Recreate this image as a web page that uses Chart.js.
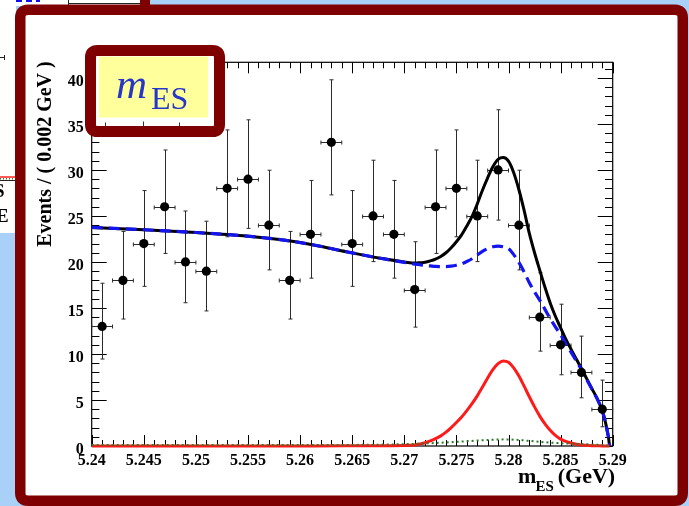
<!DOCTYPE html>
<html>
<head>
<meta charset="utf-8">
<script src="https://cdn.jsdelivr.net/npm/chart.js@4.4.1/dist/chart.umd.min.js"></script>
<style>
  html, body { margin: 0; padding: 0; background: #a9d0f7; overflow: hidden; }
  canvas { display: block; }
</style>
</head>
<body>
<canvas id="mes" width="689" height="506"></canvas>
<script>
// ---- m_ES distribution: binned data (0.002 GeV bins) ----
const binWidth = 0.002;
const binCenters = [5.241, 5.243, 5.245, 5.247, 5.249, 5.251, 5.253, 5.255, 5.257, 5.259,
                    5.261, 5.263, 5.265, 5.267, 5.269, 5.271, 5.273, 5.275, 5.277, 5.279,
                    5.281, 5.283, 5.285, 5.287, 5.289];
const counts     = [13, 18, 22, 26, 20, 19, 28, 29, 24, 18,
                    23, 33, 22, 25, 23, 17, 26, 28, 25, 30,
                    24, 14, 11, 8, 4];
// asymmetric (Poisson) error bar ends
const errLow  = [9.45, 13.80, 17.35, 20.93, 15.57, 14.68, 22.74, 23.65, 19.14, 13.80,
                 18.24, 27.29, 17.35, 20.04, 18.24, 12.92, 20.93, 22.74, 20.04, 24.55,
                 19.14, 10.31, 7.74, 5.24, 2.09];
const errHigh = [17.69, 23.32, 27.76, 32.17, 25.54, 24.43, 34.35, 35.45, 29.97, 23.32,
                 28.86, 39.80, 27.76, 31.06, 28.86, 22.20, 32.17, 34.35, 31.06, 36.54,
                 29.97, 18.83, 15.41, 11.94, 7.16];

// ---- fit projections, sampled along m_ES ----
const curveX = [5.2400, 5.2450, 5.2500, 5.2550, 5.2586, 5.2613, 5.2645, 5.2677,
                5.2700, 5.2705, 5.2710, 5.2715, 5.2720, 5.2725, 5.2730, 5.2735, 5.2740, 5.2745,
                5.2750, 5.2755, 5.2760, 5.2765, 5.2770, 5.2775, 5.2780, 5.2785, 5.2790, 5.2795,
                5.2800, 5.2805, 5.2810, 5.2815, 5.2820, 5.2825, 5.2830, 5.2835, 5.2840, 5.2845,
                5.2850, 5.2855, 5.2860, 5.2865, 5.2870, 5.2875, 5.2880, 5.2885, 5.2890, 5.2893,
                5.2895, 5.2896, 5.2897];
const fitTotal = [23.75, 23.5, 23.2, 22.8, 22.35, 21.85, 21.1, 20.4,
                  20.0, 19.92, 19.89, 19.92, 19.97, 20.12, 20.32, 20.6, 21.0, 21.55,
                  22.2, 22.95, 23.9, 24.95, 26.3, 27.8, 29.15, 30.35, 31.15, 31.35,
                  30.95, 29.7, 27.85, 25.6, 23.1, 21.0, 19.1, 17.25, 15.55, 14.1,
                  12.85, 11.6, 10.52, 9.45, 8.42, 7.32, 6.24, 5.17, 3.81, 2.6,
                  1.5, 0.9, 0];
const fitBkg   = [23.75, 23.5, 23.2, 22.8, 22.35, 21.85, 21.1, 20.4,
                  19.95, 19.85, 19.77, 19.7, 19.62, 19.57, 19.52, 19.5, 19.5, 19.55,
                  19.65, 19.8, 20.05, 20.35, 20.75, 21.15, 21.45, 21.65, 21.72, 21.65,
                  21.45, 20.8, 19.95, 18.9, 17.75, 16.75, 15.85, 14.85, 13.85, 12.95,
                  12.1, 11.1, 10.2, 9.25, 8.3, 7.25, 6.2, 5.15, 3.8, 2.6,
                  1.5, 0.9, 0];
const fitSignal = [0, 0, 0, 0, 0, 0.01, 0.02, 0.03,
                   0.05, 0.07, 0.12, 0.22, 0.35, 0.55, 0.8, 1.1, 1.5, 2.0,
                   2.55, 3.15, 3.85, 4.6, 5.45, 6.4, 7.4, 8.3, 8.95, 9.25,
                   9.1, 8.5, 7.6, 6.5, 5.35, 4.25, 3.25, 2.4, 1.7, 1.15,
                   0.75, 0.5, 0.32, 0.2, 0.12, 0.07, 0.04, 0.02, 0.01, 0,
                   0, 0, 0];
const peakingX   = [5.2400, 5.2650, 5.2700, 5.2725, 5.2750, 5.2775, 5.2795, 5.2810, 5.2830, 5.2850, 5.2870, 5.2890, 5.2897];
const fitPeaking = [0.1, 0.12, 0.2, 0.3, 0.45, 0.62, 0.72, 0.65, 0.45, 0.3, 0.2, 0.1, 0];

// ---- axes ----
const xTickValues = [5.24, 5.245, 5.25, 5.255, 5.26, 5.265, 5.27, 5.275, 5.28, 5.285, 5.29];
const xTickLabels = ['5.24', '5.245', '5.25', '5.255', '5.26', '5.265', '5.27', '5.275', '5.28', '5.285', '5.29'];
const yTickValues = [0, 5, 10, 15, 20, 25, 30, 35, 40];
const yTickLabels = ['0', '5', '10', '15', '20', '25', '30', '35', '40'];
const yTitle = 'Events / ( 0.002 GeV )';
const xTitleMain = 'm', xTitleSub = 'ES', xTitleUnit = '(GeV)';
const boxMain = 'm', boxSub = 'ES';

const SERIF = '"Liberation Serif", "Times New Roman", serif';
const FRAME_RED = '#7f0000';

const pts = (xs, ys) => xs.map((x, i) => ({ x, y: ys[i] }));

function roundRectPath(ctx, x, y, w, h, r) {
  ctx.beginPath();
  ctx.moveTo(x + r, y);
  ctx.lineTo(x + w - r, y);
  ctx.quadraticCurveTo(x + w, y, x + w, y + r);
  ctx.lineTo(x + w, y + h - r);
  ctx.quadraticCurveTo(x + w, y + h, x + w - r, y + h);
  ctx.lineTo(x + r, y + h);
  ctx.quadraticCurveTo(x, y + h, x, y + h - r);
  ctx.lineTo(x, y + r);
  ctx.quadraticCurveTo(x, y, x + r, y);
  ctx.closePath();
}

const decor = {
  id: 'decor',
  beforeDraw(chart) {
    const ctx = chart.ctx;
    const W = chart.width, H = chart.height;
    ctx.save();
    ctx.fillStyle = '#a9d0f7';
    ctx.fillRect(0, 0, W, H);

    // neighbouring slide pieces peeking out on the left and top
    ctx.fillStyle = '#ffffff';
    ctx.fillRect(0, 0, 16, 233);
    ctx.fillRect(16, 0, 126, 6);
    ctx.strokeStyle = '#222'; ctx.lineWidth = 1;
    ctx.beginPath();
    ctx.moveTo(0, 57.5); ctx.lineTo(4, 57.5);
    ctx.moveTo(4.5, 55); ctx.lineTo(4.5, 60);
    ctx.moveTo(0, 180.5); ctx.lineTo(15, 180.5);
    ctx.moveTo(68.5, 0); ctx.lineTo(68.5, 5);
    ctx.moveTo(68, 3.5); ctx.lineTo(140, 3.5);
    ctx.stroke();
    ctx.strokeStyle = '#ff2020'; ctx.lineWidth = 1.5;
    ctx.beginPath(); ctx.moveTo(0, 177); ctx.lineTo(15, 177); ctx.stroke();
    ctx.strokeStyle = '#2d7a2d'; ctx.setLineDash([1, 2]);
    ctx.beginPath(); ctx.moveTo(0, 178.8); ctx.lineTo(15, 178.8); ctx.stroke();
    ctx.setLineDash([6, 4]); ctx.strokeStyle = '#1010ee'; ctx.lineWidth = 2;
    ctx.beginPath(); ctx.moveTo(16, 1); ctx.lineTo(40, 1); ctx.stroke();
    ctx.setLineDash([]);
    ctx.fillStyle = '#000';
    ctx.font = 'bold 19px ' + SERIF;
    ctx.textBaseline = 'alphabetic';
    ctx.fillText('E', -4, 222);
    ctx.fillText('S', -6, 197);
    ctx.fillStyle = FRAME_RED;
    ctx.fillRect(140, 0, 10, 6);

    // slide frame
    ctx.fillStyle = '#ffffff';
    roundRectPath(ctx, 20, 9.5, 663, 491, 8);
    ctx.fill();
    ctx.strokeStyle = FRAME_RED;
    ctx.lineWidth = 10.5;
    roundRectPath(ctx, 20.25, 9.75, 662.5, 491, 8);
    ctx.stroke();
    ctx.restore();
  },
  beforeDatasetsDraw(chart) {
    const ctx = chart.ctx;
    const xs = chart.scales.x, ys = chart.scales.y;
    const { left, right, top, bottom } = chart.chartArea;
    ctx.save();
    // frame
    ctx.strokeStyle = '#000';
    ctx.lineWidth = 1.2;
    ctx.strokeRect(left, top, right - left, bottom - top);
    // inward ticks on all four sides
    ctx.lineWidth = 1;
    ctx.beginPath();
    for (let k = 0; k <= 50; k++) {
      const v = xs.min + k * 0.001;
      const p = Math.round(xs.getPixelForValue(v)) + 0.5;
      const len = k % 5 === 0 ? 11 : 6;
      ctx.moveTo(p, bottom); ctx.lineTo(p, bottom - len);
      ctx.moveTo(p, top); ctx.lineTo(p, top + len);
    }
    for (let v = 0; v <= 41; v++) {
      const p = Math.round(ys.getPixelForValue(v)) + 0.5;
      const len = v % 5 === 0 ? 15 : 7.7;
      ctx.moveTo(left, p); ctx.lineTo(left + len, p);
      ctx.moveTo(right, p); ctx.lineTo(right - len, p);
    }
    ctx.stroke();

    // error bars
    ctx.strokeStyle = '#2b2b2b';
    ctx.lineWidth = 1;
    ctx.beginPath();
    binCenters.forEach((c, i) => {
      const px = Math.round(xs.getPixelForValue(c)) + 0.5;
      const py = Math.round(ys.getPixelForValue(counts[i])) + 0.5;
      const pLo = ys.getPixelForValue(errLow[i]);
      const pHi = ys.getPixelForValue(errHigh[i]);
      const xl = xs.getPixelForValue(c - binWidth / 2);
      const xr = xs.getPixelForValue(c + binWidth / 2);
      ctx.moveTo(px, pLo); ctx.lineTo(px, pHi);
      ctx.moveTo(px - 2, pLo); ctx.lineTo(px + 2, pLo);
      ctx.moveTo(px - 2, pHi); ctx.lineTo(px + 2, pHi);
      ctx.moveTo(xl, py); ctx.lineTo(xr, py);
      ctx.moveTo(xl, py - 2); ctx.lineTo(xl, py + 2);
      ctx.moveTo(xr, py - 2); ctx.lineTo(xr, py + 2);
    });
    ctx.stroke();
    ctx.restore();
  },
  afterDraw(chart) {
    const ctx = chart.ctx;
    const { top, right } = chart.chartArea;
    ctx.save();
    ctx.fillStyle = '#000';

    // y axis title, end aligned with the top of the frame
    ctx.save();
    ctx.translate(46, top - 1);
    ctx.rotate(-Math.PI / 2);
    ctx.font = 'bold 20px ' + SERIF;
    ctx.textAlign = 'right';
    ctx.textBaseline = 'middle';
    ctx.fillText(yTitle, 0, 0);
    ctx.restore();

    // x axis title: m_ES (GeV), right aligned
    ctx.textBaseline = 'alphabetic';
    ctx.textAlign = 'left';
    const bigFont = 'bold 22px ' + SERIF, subFont = 'bold 15px ' + SERIF;
    ctx.font = bigFont;
    const wUnit = ctx.measureText(xTitleUnit).width;
    const wM = ctx.measureText(xTitleMain).width;
    ctx.font = subFont;
    const wSub = ctx.measureText(xTitleSub).width;
    const xEnd = right + 2.5;
    const xUnit = xEnd - wUnit;
    const xSub = xUnit - wSub - 4;
    const xM = xSub - wM + 1;
    ctx.font = bigFont;
    ctx.fillText(xTitleUnit, xUnit, 483);
    ctx.fillText(xTitleMain, xM, 483);
    ctx.font = subFont;
    ctx.fillText(xTitleSub, xSub, 491);

    // label box
    ctx.fillStyle = '#ffffff';
    roundRectPath(ctx, 90.5, 50.5, 129, 81, 7);
    ctx.fill();
    ctx.fillStyle = '#ffff9c';
    ctx.fillRect(99, 56.5, 109, 61);
    ctx.strokeStyle = '#333'; ctx.lineWidth = 1;
    ctx.beginPath();
    [105.5, 143.5, 179.5].forEach((p, i) => {
      ctx.moveTo(p, i === 1 ? 121.5 : 122.5); ctx.lineTo(p, 126);
    });
    ctx.stroke();
    ctx.strokeStyle = FRAME_RED;
    ctx.lineWidth = 11;
    roundRectPath(ctx, 90.5, 50.5, 129, 81, 7);
    ctx.stroke();
    ctx.fillStyle = '#2536c8';
    ctx.font = 'italic 43px ' + SERIF;
    ctx.fillText(boxMain, 116, 98);
    ctx.font = '32px ' + SERIF;
    ctx.fillText(boxSub, 151, 109);
    ctx.restore();
  }
};

const tickFont = { family: SERIF, weight: 'bold', size: 16 };

new Chart(document.getElementById('mes'), {
  type: 'line',
  data: {
    datasets: [
      { label: 'data', data: pts(binCenters, counts), showLine: false,
        pointRadius: 4.6, pointBackgroundColor: '#000', pointBorderColor: '#000', pointBorderWidth: 0, order: 0 },
      { label: 'peaking', data: pts(peakingX, fitPeaking), borderColor: '#2d7a2d', borderWidth: 2,
        borderDash: [2, 3], pointRadius: 0, cubicInterpolationMode: 'monotone', clip: 6, order: 1 },
      { label: 'signal', data: pts(curveX, fitSignal), borderColor: '#ff1a1a', borderWidth: 3,
        pointRadius: 0, cubicInterpolationMode: 'monotone', clip: 6, order: 2 },
      { label: 'background', data: pts(curveX, fitBkg), borderColor: '#1414f0', borderWidth: 3.2,
        borderDash: [11, 6], pointRadius: 0, cubicInterpolationMode: 'monotone', clip: 6, order: 3 },
      { label: 'total', data: pts(curveX, fitTotal), borderColor: '#000', borderWidth: 3,
        pointRadius: 0, cubicInterpolationMode: 'monotone', clip: 6, order: 4 }
    ]
  },
  options: {
    responsive: false,
    animation: false,
    devicePixelRatio: 1,
    layout: { padding: { left: 0, top: 62.3, right: 76.3, bottom: 0 } },
    plugins: { legend: { display: false }, tooltip: { enabled: false } },
    scales: {
      x: {
        type: 'linear', min: 5.24, max: 5.29,
        grid: { display: false, drawTicks: false }, border: { display: false },
        afterBuildTicks: s => { s.ticks = xTickValues.map(v => ({ value: v })); },
        afterFit: s => { s.height = 60; },
        ticks: { callback: (v, i) => xTickLabels[i], font: tickFont, color: '#000',
                 padding: 5, maxRotation: 0, autoSkip: false }
      },
      y: {
        type: 'linear', min: 0, max: 41.7,
        grid: { display: false, drawTicks: false }, border: { display: false },
        afterBuildTicks: s => { s.ticks = yTickValues.map(v => ({ value: v })); },
        afterFit: s => { s.width = 91.7; },
        ticks: { callback: (v, i) => yTickLabels[i], font: tickFont, color: '#000',
                 padding: 8, labelOffset: 3.5, autoSkip: false }
      }
    }
  },
  plugins: [decor]
});
</script>
</body>
</html>
